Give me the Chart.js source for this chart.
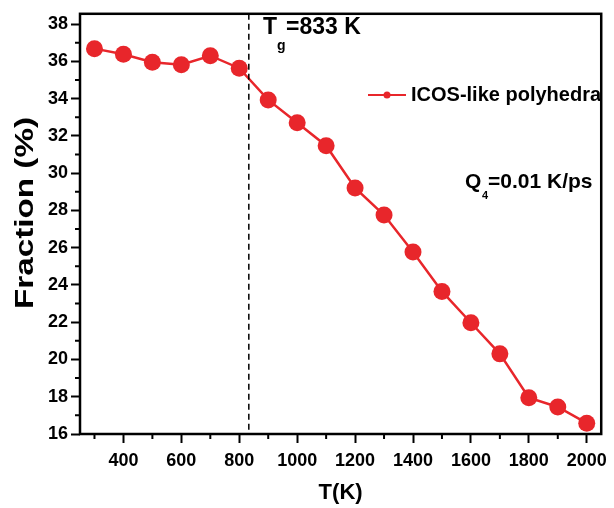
<!DOCTYPE html>
<html>
<head>
<meta charset="utf-8">
<script src="https://cdn.jsdelivr.net/npm/chart.js@4.4.1/dist/chart.umd.min.js"></script>
<style>
  html, body { margin: 0; padding: 0; background: #fff; }
  #wrap { width: 614px; height: 508px; }
</style>
</head>
<body>
<div id="wrap"><canvas id="chart" width="614" height="508"></canvas></div>
<script>
// data
const temps = [300, 400, 500, 600, 700, 800, 900, 1000, 1100, 1200, 1300, 1400, 1500, 1600, 1700, 1800, 1900, 2000];
const icosFraction = [36.68, 36.38, 35.95, 35.82, 36.3, 35.63, 33.93, 32.7, 31.47, 29.2, 27.75, 25.77, 23.65, 21.97, 20.3, 17.95, 17.45, 16.58];
const xTicks = [400, 600, 800, 1000, 1200, 1400, 1600, 1800, 2000];
const xMinorTicks = [300, 500, 700, 900, 1100, 1300, 1500, 1700, 1900];
const yTicks = [16, 18, 20, 22, 24, 26, 28, 30, 32, 34, 36, 38];
const yMinorTicks = [17, 19, 21, 23, 25, 27, 29, 31, 33, 35, 37];
const tg = 833;

const red = "#e8262b";
const FONT = "Liberation Sans, Arial, sans-serif";

//minor ticks, frame, Tg line, y title and text notes
const extras = {
  id: "extras",
  afterDraw(c) {
    const ctx = c.ctx;
    const a = c.chartArea;
    const xs = c.scales.x, ys = c.scales.y;
    ctx.save();
    ctx.strokeStyle = "#000";
    ctx.lineWidth = 2;
    ctx.beginPath();
    xMinorTicks.forEach(v => {
      const px = xs.getPixelForValue(v);
      ctx.moveTo(px, a.bottom);
      ctx.lineTo(px, a.bottom + 5);
    });
    yMinorTicks.forEach(v => {
      const py = ys.getPixelForValue(v);
      ctx.moveTo(a.left, py);
      ctx.lineTo(a.left - 5, py);
    });
    ctx.stroke();

    // frame
    ctx.lineWidth = 2.5;
    ctx.strokeRect(a.left, a.top, a.right - a.left, a.bottom - a.top);

    // Tg dashed line
    const tx = xs.getPixelForValue(tg);
    ctx.lineWidth = 1.5;
    ctx.setLineDash([6, 4]);
    ctx.beginPath();
    ctx.moveTo(tx, a.top);
    ctx.lineTo(tx, a.bottom);
    ctx.stroke();
    ctx.setLineDash([]);

    ctx.fillStyle = "#000";
    ctx.textBaseline = "alphabetic";
    ctx.textAlign = "left";
    // Tg label
    ctx.font = "bold 23px " + FONT;
    ctx.fillText("T", 263, 34);
    ctx.font = "bold 14px " + FONT;
    ctx.fillText("g", 277, 50);
    ctx.font = "bold 23px " + FONT;
    ctx.fillText("=833 K", 286, 34);

    // cooling rate label
    ctx.font = "bold 21px " + FONT;
    ctx.fillText("Q", 465, 188);
    ctx.font = "bold 11px " + FONT;
    ctx.fillText("4", 482, 199);
    ctx.font = "bold 21px " + FONT;
    ctx.fillText("=0.01 K/ps", 488, 188);

    // legend
    ctx.strokeStyle = red;
    ctx.lineWidth = 2;
    ctx.beginPath();
    ctx.moveTo(368, 95);
    ctx.lineTo(406, 95);
    ctx.stroke();
    ctx.fillStyle = red;
    ctx.beginPath();
    ctx.arc(387, 95, 3.5, 0, Math.PI * 2);
    ctx.fill();
    ctx.fillStyle = "#000";
    ctx.font = "bold 20px " + FONT;
    ctx.fillText("ICOS-like polyhedra", 411, 101);

    // y axis title, drawn stretched along its length like the original
    ctx.translate(33, 213);
    ctx.rotate(-Math.PI / 2);
    ctx.scale(1.33, 1);
    ctx.textAlign = "center";
    ctx.font = "bold 25px " + FONT;
    ctx.fillText("Fraction (%)", 0, 0);
    ctx.restore();
  },
};

new Chart(document.getElementById("chart"), {
  type: "line",
  data: {
    datasets: [
      {
        label: "ICOS-like polyhedra",
        data: temps.map((t, i) => ({ x: t, y: icosFraction[i] })),
        borderColor: red,
        backgroundColor: red,
        borderWidth: 2.5,
        pointRadius: 8.5,
        pointHoverRadius: 8.5,
        pointBorderWidth: 0,
        tension: 0,
      },
    ],
  },
  options: {
    responsive: false,
    animation: false,
    layout: { padding: { top: 4, right: 5, left: 0, bottom: 0 } },
    plugins: { legend: { display: false }, tooltip: { enabled: false } },
    scales: {
      x: {
        type: "linear",
        min: 250,
        max: 2050,
        afterBuildTicks: s => { s.ticks = xTicks.map(v => ({ value: v })); },
        afterFit: s => { s.height = 74; },
        grid: { drawOnChartArea: false, drawTicks: true, tickLength: 9, tickWidth: 2, tickColor: "#000" },
        border: { display: false },
        ticks: { color: "#000", font: { family: FONT, size: 18, weight: "bold" }, padding: 7, maxRotation: 0, callback: v => String(v) },
        title: { display: true, text: "T(K)", color: "#000", font: { family: FONT, size: 22, weight: "bold" }, padding: { top: 0, bottom: 2 } },
      },
      y: {
        min: 16,
        max: 38.55,
        afterBuildTicks: s => { s.ticks = yTicks.map(v => ({ value: v })); },
        afterFit: s => { s.width = 80; },
        grid: { drawOnChartArea: false, drawTicks: true, tickLength: 9, tickWidth: 2, tickColor: "#000" },
        border: { display: false },
        ticks: { color: "#000", font: { family: FONT, size: 18, weight: "bold" }, padding: 3, callback: v => String(v) },
        title: { display: false },
      },
    },
  },
  plugins: [extras],
});
</script>
</body>
</html>
